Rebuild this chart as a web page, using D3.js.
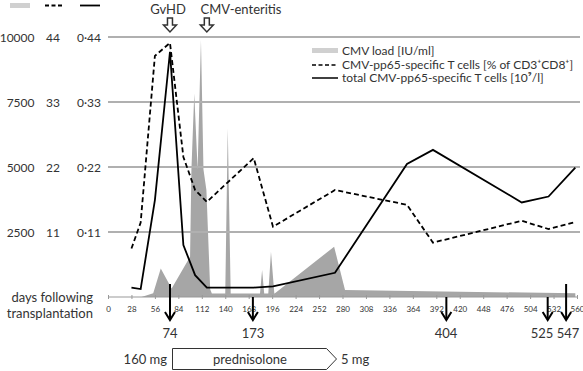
<!DOCTYPE html>
<html><head><meta charset="utf-8">
<script src="https://cdn.jsdelivr.net/npm/d3@7/dist/d3.min.js"></script>
<style>body{margin:0;background:#fff}svg{display:block}text{font-family:Lato,"DejaVu Sans",sans-serif;fill:#333}</style>
</head><body><svg id="c" width="583" height="371"></svg>
<script>
// T-cell measurement days
const days = [28, 39, 56, 74, 90, 104, 118, 174, 197, 271, 357, 388, 494, 526, 558];
// CMV-pp65-specific T cells [% of CD3+CD8+]
const pctCD8 = [8.2, 12.6, 40.8, 43, 23.7, 18.1, 16.1, 23.5, 11.9, 18.1, 15.6, 9.2, 12.9, 11.5, 12.7];
// total CMV-pp65-specific T cells [10^9/l]
const totalT = [0.016, 0.0135, 0.164, 0.415, 0.088, 0.037, 0.016, 0.016, 0.018, 0.041, 0.225, 0.249, 0.160, 0.170, 0.219];
// CMV load [IU/ml]
const cmvDays = [40, 54, 63, 76, 98, 99.6, 103, 107, 111, 114, 117.5, 122, 124, 140, 143, 146.5, 181.5, 184, 186.5, 191.4, 194.6, 198.6, 199, 270, 283, 558];
const cmvLoad = [0, 140, 1100, 330, 1550, 4880, 7830, 4900, 9880, 4900, 4120, 300, 130, 130, 6490, 130, 130, 1040, 130, 130, 1740, 130, 130, 1935, 270, 140];
// axes
const xTicks = d3.range(0, 561, 28);
const loadTicks = [2500, 5000, 7500, 10000];
const pctTicks = ["11", "22", "33", "44"];
const totTicks = ["0·11", "0·22", "0·33", "0·44"];
// events
const eventDays = [74, 173, 404, 525, 547];
const eventLong = [true, false, false, false, true];
const topEvents = [{label: "GvHD", day: 74, labelX: 168}, {label: "CMV-enteritis", day: 118, labelX: 241}];
const legendLabels = ["CMV load [IU/ml]", "CMV-pp65-specific T cells [% of CD3⁺CD8⁺]", "total CMV-pp65-specific T cells [10⁹/l]"];

const svg = d3.select("#c");
const x = d3.scaleLinear().domain([0, 560]).range([108, 577]);
const yL = d3.scaleLinear().domain([0, 10000]).range([297, 37]);
const yP = d3.scaleLinear().domain([0, 44]).range([297, 37]);
const yT = d3.scaleLinear().domain([0, 0.44]).range([297, 37]);

// area
svg.append("path")
  .datum(cmvDays.map((d, i) => [d, cmvLoad[i]]))
  .attr("fill", "#a6a6a6")
  .attr("d", d3.area().x(d => x(d[0])).y0(yL(0)).y1(d => yL(d[1])));

// gridlines
svg.selectAll(".grid").data(loadTicks).join("line")
  .attr("x1", 108).attr("x2", 580)
  .attr("y1", d => yL(d)).attr("y2", d => yL(d))
  .attr("stroke", "#b0b0b0").attr("stroke-width", 2);

// left labels
loadTicks.forEach((t, i) => {
  const y = yL(t);
  svg.append("text").attr("x", 34.5).attr("y", y).attr("text-anchor", "end").attr("dominant-baseline", "central").attr("font-size", 12).text(t);
  svg.append("text").attr("x", 53).attr("y", y).attr("text-anchor", "middle").attr("dominant-baseline", "central").attr("font-size", 12).text(pctTicks[i]);
  svg.append("text").attr("x", 89).attr("y", y).attr("text-anchor", "middle").attr("dominant-baseline", "central").attr("font-size", 12).text(totTicks[i]);
});

// top-left series glyphs
svg.append("rect").attr("x", 10).attr("y", 3).attr("width", 20).attr("height", 5).attr("fill", "#d0d0d0");
svg.append("line").attr("x1", 45).attr("x2", 63).attr("y1", 5.5).attr("y2", 5.5).attr("stroke", "#000").attr("stroke-width", 1.8).attr("stroke-dasharray", "4,2.5");
svg.append("line").attr("x1", 80).attr("x2", 100).attr("y1", 5.5).attr("y2", 5.5).attr("stroke", "#000").attr("stroke-width", 1.8);

// x axis
const xa = svg.append("g").attr("transform", "translate(0,297)")
  .call(d3.axisBottom(x).tickValues(xTicks).tickSize(3).tickPadding(6));
xa.select(".domain").attr("stroke", "#999").attr("d", "M108,0H577");
xa.selectAll(".tick line").attr("stroke", "#999").attr("y1", -2).attr("y2", 2);
xa.selectAll(".tick text").attr("font-size", 8).attr("fill", "#333").attr("font-family", "Lato, sans-serif");

svg.append("text").attr("x", 93).attr("y", 297).attr("text-anchor", "end").attr("dominant-baseline", "central").attr("font-size", 13).text("days following");
svg.append("text").attr("x", 93).attr("y", 313).attr("text-anchor", "end").attr("dominant-baseline", "central").attr("font-size", 13).text("transplantation");

// lines
svg.append("path").datum(days.map((d, i) => [d, pctCD8[i]]))
  .attr("fill", "none").attr("stroke", "#000").attr("stroke-width", 1.8).attr("stroke-dasharray", "5,3")
  .attr("d", d3.line().x(d => x(d[0])).y(d => yP(d[1])));
svg.append("path").datum(days.map((d, i) => [d, totalT[i]]))
  .attr("fill", "none").attr("stroke", "#000").attr("stroke-width", 1.8)
  .attr("d", d3.line().x(d => x(d[0])).y(d => yT(d[1])));

// legend
const lg = svg.append("g");
lg.append("rect").attr("x", 312).attr("y", 48).attr("width", 26).attr("height", 5).attr("fill", "#d0d0d0");
lg.append("line").attr("x1", 312).attr("x2", 338).attr("y1", 65).attr("y2", 65).attr("stroke", "#000").attr("stroke-width", 1.5).attr("stroke-dasharray", "4,2.5");
lg.append("line").attr("x1", 312).attr("x2", 338).attr("y1", 78).attr("y2", 78).attr("stroke", "#000").attr("stroke-width", 1.5);
[51, 65, 78].forEach((y, i) => {
  lg.append("text").attr("x", 342).attr("y", y + 4).attr("font-size", 12).text(legendLabels[i]);
});

// top event arrows
topEvents.forEach(e => {
  const cx = x(e.day);
  svg.append("text").attr("x", e.labelX).attr("y", 9).attr("text-anchor", "middle").attr("dominant-baseline", "central").attr("font-size", 13).text(e.label);
  const p = `M${cx-2.5},18 H${cx+2.5} V25 H${cx+6.5} L${cx},32 L${cx-6.5},25 H${cx-2.5} Z`;
  svg.append("path").attr("d", p).attr("fill", "#fff").attr("stroke", "#333").attr("stroke-width", 1.5);
});

// bottom event arrows
eventDays.forEach((d, i) => {
  const cx = x(d);
  const top = eventLong[i] ? 284 : 297;
  svg.append("line").attr("x1", cx).attr("x2", cx).attr("y1", top).attr("y2", 319).attr("stroke", "#000").attr("stroke-width", 2);
  svg.append("path").attr("d", `M${cx-5},312 L${cx},320 L${cx+5},312`).attr("fill", "none").attr("stroke", "#000").attr("stroke-width", 2);
});
const labelX = [170, 253, 446, 542, 568];
eventDays.forEach((d, i) => {
  svg.append("text").attr("x", labelX[i]).attr("y", 333).attr("text-anchor", "middle").attr("dominant-baseline", "central").attr("font-size", 13).text(d);
});

// prednisolone
svg.append("path").attr("d", "M172.5,348.5 H326.5 L336.5,359 L326.5,369.5 H172.5 Z").attr("fill", "#fff").attr("stroke", "#333").attr("stroke-width", 1);
svg.append("text").attr("x", 250).attr("y", 359).attr("text-anchor", "middle").attr("dominant-baseline", "central").attr("font-size", 13).text("prednisolone");
svg.append("text").attr("x", 167).attr("y", 359).attr("text-anchor", "end").attr("dominant-baseline", "central").attr("font-size", 13).text("160 mg");
svg.append("text").attr("x", 341).attr("y", 359).attr("dominant-baseline", "central").attr("font-size", 13).text("5 mg");
</script></body></html>
